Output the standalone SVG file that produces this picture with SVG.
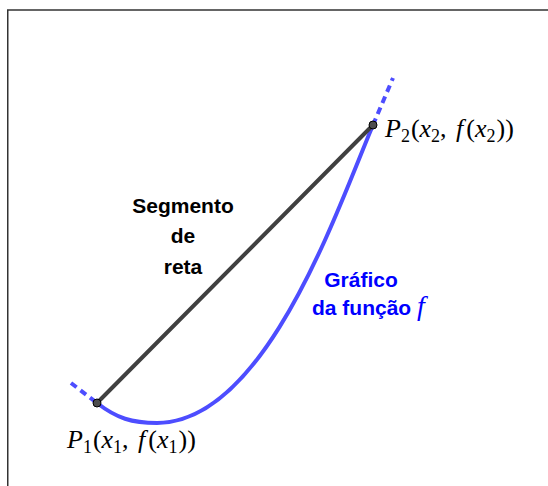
<svg xmlns="http://www.w3.org/2000/svg" width="548" height="486" viewBox="0 0 548 486">
<style>
.frame{fill:none;stroke:#333;stroke-width:1.5}
.curve{fill:none;stroke:#4d4dff;stroke-width:4;stroke-linecap:round}
.dash{fill:none;stroke:#4d4dff;stroke-width:4;stroke-dasharray:7 5}
.seg{fill:none;stroke:#404040;stroke-width:4;stroke-linecap:round}
.pt{fill:#4d4d4d;stroke:#000;stroke-width:1}
.lbl{font-family:"Liberation Sans",Arial,sans-serif;font-weight:bold;font-size:21px;text-anchor:middle}
.math{font-family:"Liberation Serif","Times New Roman",serif;font-size:26px;fill:#000}
.it{font-style:italic}
.sub{font-size:18px}
</style>
<rect width="548" height="486" fill="#fff"/>
<path class="frame" d="M548,10 H7.75 V486"/>
<g id="connectors">
<path id="curve-ext-low" class="dash" d="M71,383 L97,403"/>
<path id="curve-ext-high" class="dash" d="M373,125 L393,78"/>
<path id="curve" class="curve" d="M97,403 C116.8,418.3 132,423 157,423 C265,423 336.9,210.3 373,125"/>
<path id="segment" class="seg" d="M97,403 L373,125"/>
</g>
<g id="P1">
<circle class="pt" cx="97" cy="403" r="4"/>
<text class="math" x="67" y="448"><tspan class="it">P</tspan><tspan class="sub" dy="5">1</tspan><tspan dy="-5" dx="1">(</tspan><tspan class="it">x</tspan><tspan class="sub" dy="5">1</tspan><tspan dy="-5">, </tspan><tspan class="it" dx="3">f</tspan><tspan dx="3">(</tspan><tspan class="it">x</tspan><tspan class="sub" dy="5">1</tspan><tspan dy="-5" dx="1">))</tspan></text>
</g>
<g id="P2">
<circle class="pt" cx="373" cy="125" r="4"/>
<text class="math" x="385" y="137"><tspan class="it">P</tspan><tspan class="sub" dy="5">2</tspan><tspan dy="-5" dx="1">(</tspan><tspan class="it">x</tspan><tspan class="sub" dy="5">2</tspan><tspan dy="-5">, </tspan><tspan class="it" dx="3">f</tspan><tspan dx="3">(</tspan><tspan class="it">x</tspan><tspan class="sub" dy="5">2</tspan><tspan dy="-5" dx="1">))</tspan></text>
</g>
<g id="segment-label">
<text class="lbl" fill="#000" x="183" y="213">Segmento</text>
<text class="lbl" fill="#000" x="183" y="243">de</text>
<text class="lbl" fill="#000" x="183" y="274">reta</text>
</g>
<g id="graph-label">
<text class="lbl" fill="#0000ff" x="361" y="287">Gráfico</text>
<text fill="#0000ff" x="312" y="315" style="font-family:'Liberation Sans',Arial,sans-serif;font-weight:bold;font-size:21px">da função <tspan style="font-family:'Liberation Serif','Times New Roman',serif;font-weight:normal;font-style:italic;font-size:28px">f</tspan></text>
</g>
</svg>
